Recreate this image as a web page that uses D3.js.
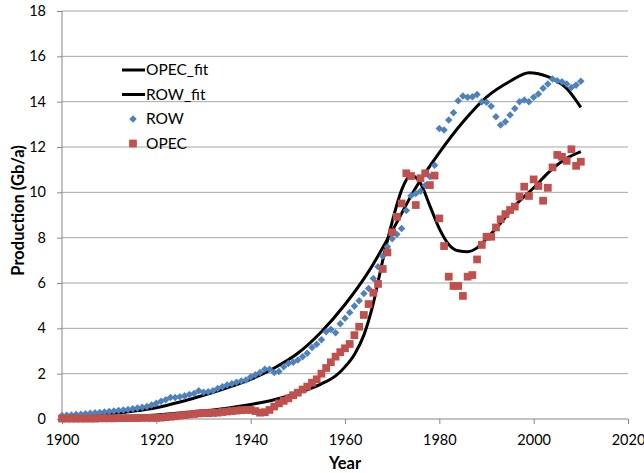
<!DOCTYPE html>
<html>
<head>
<meta charset="utf-8">
<title>Production fits</title>
<script src="https://cdn.jsdelivr.net/npm/d3@7/dist/d3.min.js"></script>
<style>
	body { margin: 0; background: #fff; }
	svg text { font-family: Lato, "Open Sans", sans-serif; fill: #000; }
</style>
</head>
<body>
<div id="chart"></div>
<script>
//------------------------------------------------------------------------------
// Data
//------------------------------------------------------------------------------

var firstYear = 1900, lastYear = 2010;
var years = d3.range(firstYear, lastYear + 1);

// rest of world, Gb/a, one value per year 1900..2010
var rowValues = [
	0.15, 0.16, 0.18, 0.20, 0.21, 0.23, 0.25, 0.27, 0.29, 0.31,
	0.33, 0.35, 0.38, 0.40, 0.42, 0.45, 0.48, 0.52, 0.55, 0.62,
	0.70, 0.78, 0.85, 0.95, 0.95, 0.98, 1.02, 1.08, 1.12, 1.25,
	1.18, 1.20, 1.25, 1.35, 1.42, 1.50, 1.55, 1.62, 1.68, 1.72,
	1.85, 1.95, 2.05, 2.20, 2.20, 2.05, 2.10, 2.30, 2.45, 2.50,
	2.60, 2.75, 2.90, 3.15, 3.30, 3.50, 3.85, 3.95, 3.80, 4.20,
	4.45, 4.70, 4.98, 5.22, 5.54, 5.76, 6.20, 6.72, 7.19, 7.60,
	7.95, 8.15, 8.40, 9.20, 9.85, 9.95, 10.05, 10.30, 10.70, 11.20,
	12.82, 12.75, 13.19, 13.51, 14.04, 14.25, 14.19, 14.22, 14.32, 14.00,
	13.97, 13.80, 13.33, 12.97, 13.11, 13.41, 13.70, 14.00, 14.07, 14.00,
	14.19, 14.34, 14.59, 14.78, 15.00, 14.92, 14.88, 14.78, 14.63, 14.73, 14.90
];

// OPEC, Gb/a, one value per year 1900..2010
var opecValues = [
	0.02, 0.02, 0.02, 0.02, 0.02, 0.02, 0.02, 0.02, 0.03, 0.03,
	0.03, 0.03, 0.04, 0.04, 0.04, 0.04, 0.04, 0.05, 0.05, 0.05,
	0.05, 0.06, 0.08, 0.10, 0.12, 0.15, 0.17, 0.20, 0.22, 0.25,
	0.26, 0.26, 0.27, 0.28, 0.31, 0.33, 0.35, 0.37, 0.39, 0.40,
	0.40, 0.35, 0.28, 0.30, 0.40, 0.55, 0.69, 0.80, 0.91, 1.05,
	1.16, 1.30, 1.43, 1.60, 1.75, 2.00, 2.25, 2.50, 2.75, 2.95,
	3.12, 3.31, 3.70, 4.07, 4.59, 5.07, 5.57, 5.96, 6.62, 7.35,
	8.24, 8.92, 9.51, 10.84, 10.72, 9.44, 10.62, 10.84, 10.32, 10.74,
	8.85, 7.63, 6.28, 5.87, 5.87, 5.43, 6.28, 6.35, 7.04, 7.68,
	8.04, 8.04, 8.45, 8.81, 9.04, 9.22, 9.37, 9.81, 10.25, 9.84,
	10.57, 10.28, 9.63, 10.20, 11.10, 11.65, 11.57, 11.39, 11.90, 11.17, 11.35
];

// fitted curves
var rowFitYears  = [1900, 1905, 1910, 1915, 1920, 1925, 1930, 1935, 1940, 1945, 1950, 1955,
	1960, 1965, 1970, 1975, 1980, 1985, 1990, 1995, 1999, 2003, 2007, 2010];
var rowFitValues = [0.08, 0.14, 0.22, 0.34, 0.50, 0.75, 1.05, 1.38, 1.75, 2.25, 2.90, 3.85,
	5.05, 6.50, 8.30, 10.20, 11.75, 13.10, 14.20, 14.90, 15.28, 15.10, 14.58, 13.75];

var opecFitYears  = [1900, 1905, 1910, 1915, 1920, 1925, 1930, 1935, 1940, 1945, 1950, 1955,
	1958, 1960, 1962, 1964, 1966, 1968, 1970, 1972, 1974, 1976, 1978, 1980, 1982, 1984,
	1986, 1988, 1990, 1993, 1996, 2000, 2003, 2007, 2010];
var opecFitValues = [0.03, 0.05, 0.08, 0.12, 0.18, 0.26, 0.36, 0.48, 0.64, 0.85, 1.15, 1.55,
	1.90, 2.30, 2.85, 3.70, 5.10, 7.00, 8.70, 10.10, 10.75, 10.40, 9.40, 8.40, 7.70, 7.42,
	7.38, 7.55, 7.95, 8.65, 9.40, 10.20, 10.85, 11.50, 11.80];

var xTicks = [1900, 1920, 1940, 1960, 1980, 2000, 2020];
var yTicks = [0, 2, 4, 6, 8, 10, 12, 14, 16, 18];

var legendNames = ["OPEC_fit", "ROW_fit", "ROW", "OPEC"];


//------------------------------------------------------------------------------
// Plotting
//------------------------------------------------------------------------------

function plot_chart(div_id) {
	var width = 644, height = 473;
	var margin = {left: 62, right: 16, top: 11, bottom: 54};
	var blue = "#4f81bd", red = "#c0504d";

	var svg = d3.select(div_id)
		.append("svg")
		.attr("width", width)
		.attr("height", height);

	var xscale = d3.scaleLinear()
		.domain([1900, 2020])
		.range([margin.left, width - margin.right]);

	var yscale = d3.scaleLinear()
		.domain([0, 18])
		.range([height - margin.bottom, margin.top]);

	// gridlines
	svg.append("g")
		.selectAll("line")
		.data(yTicks.slice(1))
		.join("line")
		.attr("x1", xscale(1900))
		.attr("x2", xscale(2020))
		.attr("y1", function(d) { return yscale(d); })
		.attr("y2", function(d) { return yscale(d); })
		.attr("stroke", "#a6a6a6")
		.attr("stroke-width", 1);

	var y_axis = d3.axisLeft(yscale)
		.tickValues(yTicks)
		.tickSize(5)
		.tickPadding(11);

	var x_axis = d3.axisBottom(xscale)
		.tickValues(xTicks)
		.tickFormat(d3.format("d"))
		.tickSize(5)
		.tickPadding(11);

	var gy = svg.append("g")
		.attr("transform", "translate(" + margin.left + ",0)")
		.call(y_axis);

	var gx = svg.append("g")
		.attr("transform", "translate(0," + (height - margin.bottom) + ")")
		.call(x_axis);

	[gx, gy].forEach(function(g) {
		g.selectAll("path, line").attr("stroke", "#868686");
		g.selectAll("text").attr("font-size", 14.5).attr("font-family", "Lato, 'Open Sans', sans-serif");
	});
	gx.select(".domain").attr("d", "M" + xscale(1900) + ",0H" + xscale(2020));
	gy.select(".domain").attr("d", "M0," + yscale(18) + "V" + yscale(0));

	// axis titles
	svg.append("text")
		.attr("x", xscale(1960))
		.attr("y", 469)
		.attr("text-anchor", "middle")
		.attr("font-size", 16.5)
		.attr("font-weight", "bold")
		.text("Year");

	svg.append("text")
		.attr("transform", "translate(24," + yscale(9.2) + ") rotate(-90)")
		.attr("text-anchor", "middle")
		.attr("font-size", 16.5)
		.attr("font-weight", "bold")
		.text("Production (Gb/a)");

	// fitted curves
	var line = d3.line()
		.x(function(d) { return xscale(d[0]); })
		.y(function(d) { return yscale(d[1]); })
		.curve(d3.curveMonotoneX);

	svg.append("path")
		.datum(d3.zip(opecFitYears, opecFitValues))
		.attr("d", line)
		.attr("fill", "none")
		.attr("stroke", "#000")
		.attr("stroke-width", 3);

	svg.append("path")
		.datum(d3.zip(rowFitYears, rowFitValues))
		.attr("d", line)
		.attr("fill", "none")
		.attr("stroke", "#000")
		.attr("stroke-width", 3);

	// markers
	var diamond = d3.symbol().type(d3.symbolDiamond2).size(36);
	var square = d3.symbol().type(d3.symbolSquare).size(60);

	svg.append("g")
		.selectAll("path")
		.data(d3.zip(years, rowValues))
		.join("path")
		.attr("d", diamond)
		.attr("transform", function(d) { return "translate(" + xscale(d[0]) + "," + yscale(d[1]) + ")"; })
		.attr("fill", blue);

	svg.append("g")
		.selectAll("path")
		.data(d3.zip(years, opecValues))
		.join("path")
		.attr("d", square)
		.attr("transform", function(d) { return "translate(" + xscale(d[0]) + "," + yscale(d[1]) + ")"; })
		.attr("fill", red);

	// legend
	var legend = svg.append("g").attr("transform", "translate(122,70)");
	var items = legend.selectAll("g")
		.data(legendNames)
		.join("g")
		.attr("transform", function(d, i) { return "translate(0," + (i * 24.5) + ")"; });

	items.filter(function(d, i) { return i < 2; })
		.append("line")
		.attr("x1", 0).attr("x2", 23)
		.attr("stroke", "#000")
		.attr("stroke-width", 3);

	items.filter(function(d) { return d === "ROW"; })
		.append("path")
		.attr("d", diamond)
		.attr("transform", "translate(11,0)")
		.attr("fill", blue);

	items.filter(function(d) { return d === "OPEC"; })
		.append("path")
		.attr("d", square)
		.attr("transform", "translate(11,0)")
		.attr("fill", red);

	items.append("text")
		.attr("x", 24)
		.attr("dy", "0.35em")
		.attr("font-size", 15.5)
		.text(function(d) { return d; });
}


//------------------------------------------------------------------------------
// Main
//------------------------------------------------------------------------------

function main() {
	plot_chart("#chart");
}

window.addEventListener('load', main, false);
</script>
</body>
</html>
